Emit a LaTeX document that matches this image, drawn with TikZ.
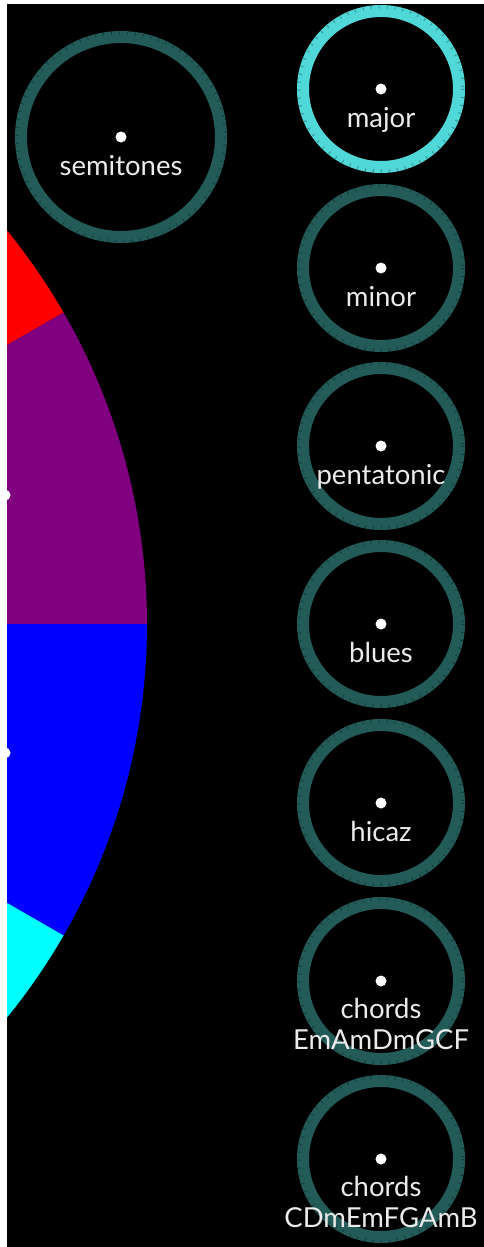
\documentclass[tikz,border=0pt]{standalone}
\usepackage{fontspec}
\setmainfont{Lato}
\usetikzlibrary{calc}

\definecolor{ringteal}{RGB}{35,91,88}
\definecolor{ringlit}{RGB}{80,216,216}
\definecolor{labelgray}{RGB}{235,235,235}
\definecolor{wheelpurple}{RGB}{128,0,128}
\definecolor{wheelcyan}{RGB}{0,255,255}

\begin{document}
\begin{tikzpicture}
    [x=1pt, y=-1pt,
     ring/.style={circle, draw=ringteal, line width=12pt, minimum size=156pt, inner sep=0pt},
     bigring/.style={ring, minimum size=200pt},
     litring/.style={ring, draw=ringlit},
     ringticks/.style={draw=black, opacity=0.3, line width=3pt, dash pattern=on 1pt off 7pt},
     centerdot/.style={circle, fill=white, minimum size=11pt, inner sep=0pt},
     lbl/.style={anchor=base, text=labelgray, inner sep=0pt, font=\fontsize{27.5}{32}\selectfont}]

    \useasboundingbox (0,0) rectangle (484,1247);
    \fill[white] (0,0) rectangle (484,1247);

    \begin{scope}
      \clip (7,4) rectangle (484,1247);
      \fill[black] (7,4) rectangle (484,1247);

      % colour wheel, centre lies off the page
      \coordinate (wheel) at (-476,624);
      \fill[red] (wheel) -- ++(-60:623) arc[start angle=-60, end angle=-30, radius=623] -- cycle;
      \fill[wheelpurple] (wheel) -- ++(-30:623) arc[start angle=-30, end angle=0, radius=623] -- cycle;
      \fill[blue] (wheel) -- ++(0:623) arc[start angle=0, end angle=30, radius=623] -- cycle;
      \fill[wheelcyan] (wheel) -- ++(30:623) arc[start angle=30, end angle=60, radius=623] -- cycle;
      \node[centerdot] (purpledot) at ($(wheel)+(-15:498)$) {};
      \node[centerdot] (bluedot) at ($(wheel)+(15:498)$) {};
    \end{scope}

    \node[bigring] (semitones) at (121,137) {};
    \node[litring] (major) at (381,89) {};
    \foreach \name/\ypos in {minor/268, pentatonic/446, blues/624, hicaz/803, chordsa/981, chordsb/1159}
      \node[ring] (\name) at (381,\ypos) {};

    \draw[ringticks] (semitones.center) circle[radius=104];
    \foreach \name in {major, minor, pentatonic, blues, hicaz, chordsa, chordsb}
      \draw[ringticks] (\name.center) circle[radius=82];

    \foreach \name in {semitones, major, minor, pentatonic, blues, hicaz, chordsa, chordsb}
      \node[centerdot] (\name-dot) at (\name.center) {};

    \foreach \name in {semitones, major, minor, pentatonic, blues, hicaz}
      \node[lbl] (\name-label) at ($(\name.center)+(0,38)$) {\name};
    \node[lbl] (chordsa-label) at ($(chordsa.center)+(0,37)$) {chords};
    \node[lbl] (chordsa-keys) at ($(chordsa.center)+(0,68)$) {EmAmDmGCF};
    \node[lbl] (chordsb-label) at ($(chordsb.center)+(0,37)$) {chords};
    \node[lbl] (chordsb-keys) at ($(chordsb.center)+(0,68)$) {CDmEmFGAmB};
  \end{tikzpicture}
\end{document}
